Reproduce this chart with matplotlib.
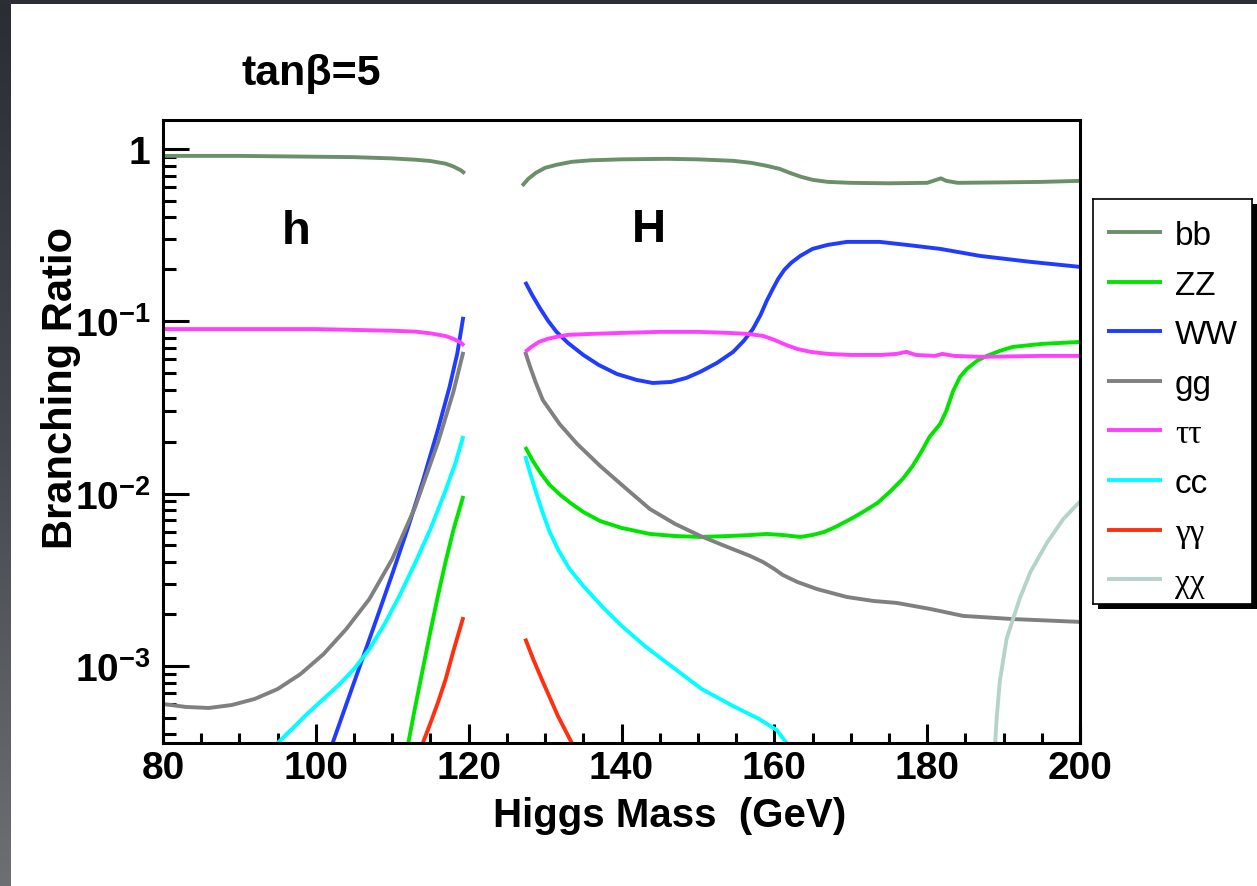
import numpy as np
import matplotlib
matplotlib.use("Agg")
import matplotlib.pyplot as plt
from matplotlib.patches import Rectangle
from matplotlib.colors import LinearSegmentedColormap
from matplotlib.ticker import FixedLocator, FixedFormatter, MultipleLocator, LogLocator, NullFormatter

# ---------------- data ----------------
# light Higgs h
bb_h_mass = [80, 85, 90, 95, 100, 105, 110, 113, 115, 117, 118, 119, 119.5]
bb_h_br = [0.91, 0.91, 0.91, 0.905, 0.90, 0.895, 0.88, 0.865, 0.85, 0.82, 0.79, 0.75, 0.72]
tt_h_mass = [80, 90, 100, 105, 110, 113, 115, 117, 118, 119, 119.4]
tt_h_br = [0.090, 0.090, 0.090, 0.089, 0.088, 0.087, 0.085, 0.082, 0.079, 0.075, 0.072]
gg_h_mass = [80, 83, 86, 89, 92, 95, 98, 101, 104, 107, 110, 113, 116, 118, 119.3]
gg_h_br = [6.01e-4, 5.78e-4, 5.70e-4, 5.93e-4, 6.43e-4, 7.34e-4, 8.97e-4, 1.17e-3, 1.64e-3,
           2.44e-3, 4.17e-3, 8.36e-3, 0.0199, 0.0389, 0.0664]
ww_h_mass = [102.2, 104, 106, 108, 110, 112, 114, 116, 117.5, 118.5, 119.3]
ww_h_br = [3.57e-4, 6.01e-4, 1.07e-3, 1.90e-3, 3.41e-3, 6.23e-3, 0.0118, 0.0237, 0.0416, 0.0646, 0.106]
cc_h_mass = [95, 97, 99, 101, 103, 105, 107, 109, 111, 113, 115, 117, 118.3, 119.3]
cc_h_br = [3.57e-4, 4.36e-4, 5.34e-4, 6.43e-4, 7.75e-4, 9.59e-4, 1.25e-3, 1.75e-3, 2.58e-3,
           3.96e-3, 6.23e-3, 0.0105, 0.0152, 0.0216]
zz_h_mass = [112.1, 113, 114, 115, 116, 117, 118, 119.3]
zz_h_br = [3.57e-4, 5.78e-4, 9.59e-4, 1.59e-3, 2.58e-3, 4.06e-3, 6.15e-3, 9.69e-3]
aa_h_mass = [114, 115, 116, 117, 118, 119.3]
aa_h_br = [3.57e-4, 4.66e-4, 6.17e-4, 8.40e-4, 1.22e-3, 1.92e-3]

# heavy Higgs H
bb_H_mass = [127, 127.8, 128.8, 130, 131.5, 133.5, 136, 140, 146, 150, 154.6, 157, 159, 160.7, 162,
             163.5, 165, 167, 170, 175, 180, 181.2, 181.8, 182.5, 184, 190, 195, 200]
bb_H_br = [0.610, 0.670, 0.726, 0.776, 0.808, 0.841, 0.858, 0.869, 0.875, 0.869, 0.852, 0.829, 0.797,
           0.765, 0.726, 0.688, 0.661, 0.643, 0.635, 0.631, 0.635, 0.661, 0.674, 0.652, 0.635, 0.639,
           0.643, 0.652]
ww_H_mass = [127.4, 128.3, 129.3, 130.4, 131.5, 133, 135, 137, 139.4, 142, 144.1, 146.5, 148.5, 150.3,
             152.5, 154.6, 156, 157.2, 158.2, 159, 159.8, 160.5, 161.3, 162.2, 163.4, 165, 167, 169.5,
             173.8, 177.3, 181.7, 186.9, 193.5, 200]
ww_H_br = [0.1690, 0.1421, 0.1195, 0.1004, 0.0867, 0.0748, 0.0637, 0.0558, 0.0494, 0.0456, 0.0438,
           0.0444, 0.0469, 0.0508, 0.0573, 0.0663, 0.0769, 0.0902, 0.1088, 0.1312, 0.1540, 0.1760,
           0.1984, 0.2181, 0.2393, 0.2628, 0.2772, 0.2885, 0.2885, 0.2772, 0.2628, 0.2393, 0.2210, 0.2066]
tt_H_mass = [127.4, 128.2, 129.2, 130.3, 131.5, 133, 136, 140, 145, 150, 154, 156.5, 158.5, 160, 161.5,
             163, 164.7, 167, 170, 174, 176, 177.3, 178.5, 181, 182, 183.5, 187, 195, 200]
tt_H_br = [0.0664, 0.0709, 0.0758, 0.0789, 0.0811, 0.0833, 0.0844, 0.0855, 0.0867, 0.0867, 0.0855,
           0.0844, 0.0822, 0.0779, 0.0729, 0.0690, 0.0664, 0.0646, 0.0637, 0.0637, 0.0646, 0.0664,
           0.0637, 0.0629, 0.0646, 0.0629, 0.0621, 0.0629, 0.0629]
gg_H_mass = [127.4, 128.0, 128.8, 129.7, 131.9, 134.2, 137.2, 140.5, 143.7, 147, 150.3, 153.5, 156.8,
             158.5, 160, 161.1, 163, 165.6, 169.5, 173, 176, 180.4, 184.7, 191.2, 200]
gg_H_br = [0.0664, 0.0550, 0.0438, 0.0349, 0.0253, 0.0194, 0.01446, 0.01078, 0.00814, 0.00667,
           0.00568, 0.00497, 0.00435, 0.00401, 0.00365, 0.00337, 0.00307, 0.00279, 0.00251, 0.00238,
           0.00232, 0.00214, 0.00195, 0.00187, 0.00180]
zz_H_mass = [127.4, 128.4, 129.5, 130.6, 132, 133.5, 135, 137.2, 140, 143.7, 147, 150.3, 154, 157, 159,
             161, 163.4, 165, 166.5, 168, 170, 171.6, 173.5, 175.1, 176.8, 178.1, 179.3, 180.3, 181.7,
             182.5, 183.4, 184.3, 185.2, 186.5, 187.8, 189.5, 191.2, 195, 200]
zz_H_br = [0.01864, 0.01546, 0.01299, 0.01122, 0.00981, 0.00870, 0.00782, 0.00693, 0.00632, 0.00583,
           0.00567, 0.00560, 0.00567, 0.00575, 0.00583, 0.00575, 0.00560, 0.00575, 0.00598, 0.00640,
           0.00712, 0.00782, 0.00882, 0.01022, 0.01216, 0.01446, 0.01767, 0.02130, 0.02534, 0.03015,
           0.03939, 0.04750, 0.05285, 0.05882, 0.06288, 0.06723, 0.07093, 0.07383, 0.07584]
cc_H_mass = [127.4, 128.0, 128.8, 129.7, 130.6, 131.8, 133.2, 135, 137.5, 140, 143, 146.5, 150.5,
             154.6, 158, 160.3, 161.6]
cc_H_br = [0.0165, 0.01334, 0.01021, 7.71e-3, 5.99e-3, 4.64e-3, 3.65e-3, 2.91e-3, 2.20e-3, 1.71e-3,
           1.31e-3, 9.98e-4, 7.34e-4, 5.85e-4, 4.92e-4, 4.25e-4, 3.57e-4]
aa_H_mass = [127.4, 128.5, 129.7, 131.7, 133.5]
aa_H_br = [1.44e-3, 1.08e-3, 8.1e-4, 5.1e-4, 3.57e-4]
xx_H_mass = [188.9, 189.1, 189.5, 190.4, 192.1, 193.5, 195.7, 197.8, 200]
xx_H_br = [3.57e-4, 5.0e-4, 8.1e-4, 1.44e-3, 2.45e-3, 3.5e-3, 5.2e-3, 7.1e-3, 9.0e-3]

channels = ["bb", "ZZ", "WW", "gg", "ττ", "cc", "γγ", "χχ"]
colors = ["#6b8f6b", "#00e400", "#1f3cff", "#808080", "#ff40ff", "#00ffff", "#ff3010", "#b6d3ca"]
series = [
    [(bb_h_mass, bb_h_br), (bb_H_mass, bb_H_br)],
    [(zz_h_mass, zz_h_br), (zz_H_mass, zz_H_br)],
    [(ww_h_mass, ww_h_br), (ww_H_mass, ww_H_br)],
    [(gg_h_mass, gg_h_br), (gg_H_mass, gg_H_br)],
    [(tt_h_mass, tt_h_br), (tt_H_mass, tt_H_br)],
    [(cc_h_mass, cc_h_br), (cc_H_mass, cc_H_br)],
    [(aa_h_mass, aa_h_br), (aa_H_mass, aa_H_br)],
    [(xx_H_mass, xx_H_br)],
]

x_ticks = [80, 100, 120, 140, 160, 180, 200]
y_ticks = [1e-3, 1e-2, 1e-1, 1]
y_tick_labels = [r"$10^{-3}$", r"$10^{-2}$", r"$10^{-1}$", "1"]

# ---------------- style ----------------
plt.rcParams["font.family"] = ["Liberation Sans", "DejaVu Sans"]
plt.rcParams["mathtext.fontset"] = "custom"
plt.rcParams["mathtext.rm"] = "Liberation Sans:bold"
plt.rcParams["mathtext.bf"] = "Liberation Sans:bold"
plt.rcParams["mathtext.it"] = "Liberation Sans:bold"

W, H = 1257, 887
fig = plt.figure(figsize=(W / 100, H / 100), dpi=100)
fig.patch.set_facecolor("white")

# dark frame of the screenshot (top and left)
fig.add_artist(Rectangle((0, 1 - 5 / H), 1, 5 / H, transform=fig.transFigure,
                         facecolor="#2b2e35", edgecolor="none", zorder=5))
gax = fig.add_axes([0, 0, 11 / W, 1])
grad = np.linspace(0, 1, 256).reshape(-1, 1)
cmap = LinearSegmentedColormap.from_list("frame", ["#2a2d34", "#45484f", "#6d6f73"])
gax.imshow(grad, aspect="auto", cmap=cmap, extent=[0, 1, 0, 1], origin="upper")
gax.set_axis_off()

# main axes
L, R, T, B = 163, 1080, 121, 744
ax = fig.add_axes([L / W, 1 - B / H, (R - L) / W, (B - T) / H])
for segs, col in zip(series, colors):
    for m, br in segs:
        ax.plot(m, br, color=col, lw=2.8, solid_capstyle="butt", solid_joinstyle="round")

ax.set_yscale("log")
ax.set_xlim(80, 200)
ax.set_ylim(3.57e-4, 1.47)

ax.xaxis.set_major_locator(FixedLocator(x_ticks))
ax.xaxis.set_minor_locator(MultipleLocator(5))
ax.yaxis.set_major_locator(FixedLocator(y_ticks))
ax.yaxis.set_major_formatter(FixedFormatter(y_tick_labels))
ax.yaxis.set_minor_locator(LogLocator(base=10, subs=np.arange(2, 10)))
ax.yaxis.set_minor_formatter(NullFormatter())

ax.tick_params(axis="both", which="both", direction="in", top=False, right=False, color="black")
ax.tick_params(axis="y", which="major", length=19, width=2.2, pad=9, labelsize=28)
ax.tick_params(axis="y", which="minor", length=9.5, width=2.2)
ax.tick_params(axis="x", which="major", length=14, width=2.2, pad=5, labelsize=28)
ax.tick_params(axis="x", which="minor", length=7.5, width=2.2)
for lab in ax.get_xticklabels() + ax.get_yticklabels():
    lab.set_fontweight("bold")
for sp in ax.spines.values():
    sp.set_linewidth(2.2)
    sp.set_color("black")

ax.set_xlabel("Higgs Mass  (GeV)", fontsize=29, fontweight="bold")
ax.xaxis.set_label_coords((670 - L) / (R - L), (B - 797) / (B - T))
ax.set_ylabel("Branching Ratio", fontsize=30, fontweight="bold")
ax.yaxis.set_label_coords((81 - L) / (R - L), (B - 388) / (B - T))

# region labels and title
fig.text(296 / W, 1 - 232 / H, "h", fontsize=34, fontweight="bold", ha="center", va="center")
fig.text(649 / W, 1 - 230 / H, "H", fontsize=34, fontweight="bold", ha="center", va="center")
fig.text(311 / W, 1 - 85 / H, "tanβ=5", fontsize=31, fontweight="bold", ha="center", va="baseline")

# legend box with shadow
lx0, ly0, lx1, ly1 = 1093, 200, 1252, 605
fig.add_artist(Rectangle(((lx0 + 5) / W, 1 - (ly1 + 5) / H), (lx1 - lx0) / W, (ly1 - ly0) / H,
                         transform=fig.transFigure, facecolor="black", edgecolor="none", zorder=-1))
lax = fig.add_axes([lx0 / W, 1 - ly1 / H, (lx1 - lx0) / W, (ly1 - ly0) / H], zorder=2)
lax.set_xlim(0, 1)
step = 49.6
first = 233
lax.set_ylim((ly1 - first) / step, (ly0 - first) / step)
lax.set_xticks([])
lax.set_yticks([])
for sp in lax.spines.values():
    sp.set_linewidth(1.2)
    sp.set_color("black")
greek = {"ττ", "γγ", "χχ"}
for i, (name, col) in enumerate(zip(channels, colors)):
    lax.plot([0.088, 0.434], [i, i], color=col, lw=2.8, solid_capstyle="butt")
    fam = ["Liberation Serif", "DejaVu Serif"] if name in greek else ["Liberation Sans", "DejaVu Sans"]
    lax.text(0.515, i, name, fontsize=24, family=fam, ha="left", va="center_baseline")

fig.savefig("out.png", dpi=100, facecolor=fig.get_facecolor())
